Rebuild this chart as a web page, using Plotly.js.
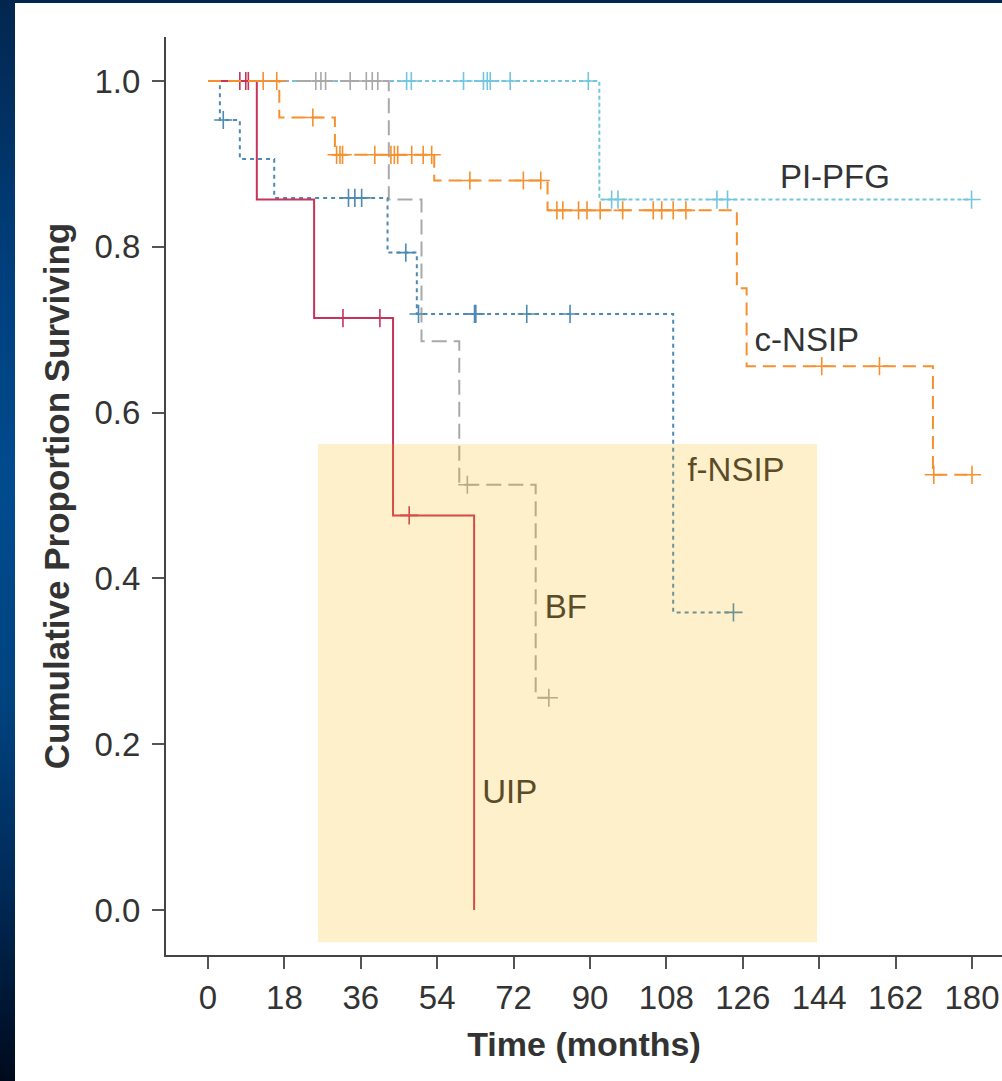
<!DOCTYPE html>
<html>
<head>
<meta charset="utf-8">
<script src="https://cdn.plot.ly/plotly-3.0.1.min.js"></script>
<style>
  html, body { margin: 0; padding: 0; }
  body {
    width: 1002px; height: 1081px; overflow: hidden; position: relative;
    background: linear-gradient(to bottom, #03264f 0%, #003f7c 25%, #004b8f 45%, #00437f 65%, #002a58 82%, #000a1c 100%);
  }
  #chart { position: absolute; left: 15px; top: 3px; width: 987px; height: 1078px; background: #fff; }
</style>
</head>
<body>
<div id="chart"></div>
<script>
// ---- Step curves (time in months, cumulative proportion surviving) ----
const uipTime   = [0, 11.5, 25.0, 43.6, 62.7];
const uipSurv   = [1.0, 0.857, 0.714, 0.476, 0.0];
const uipCens   = [7.5, 8.9, 9.5, 31.8, 40.5, 47.4];

const bfTime    = [0, 42.6, 50.3, 59.2, 77.2, 80.3];
const bfSurv    = [1.0, 0.857, 0.686, 0.513, 0.256, 0.256];
const bfCens    = [25.4, 26.6, 27.7, 33.5, 37.3, 38.7, 40.0, 61.1, 80.3];

const fnsipTime = [0, 2.8, 7.5, 15.6, 42.3, 49.2, 109.6, 123.8];
const fnsipSurv = [1.0, 0.953, 0.906, 0.859, 0.793, 0.719, 0.359, 0.359];
const fnsipCens = [3.6, 33.1, 34.6, 36.2, 46.6, 49.6, 62.8, 63.1, 75.1, 85.3, 123.8];

const cnsipTime = [0, 16.8, 29.9, 53.3, 80.0, 124.6, 126.9, 170.8, 180.0];
const cnsipSurv = [1.0, 0.956, 0.911, 0.880, 0.844, 0.750, 0.656, 0.525, 0.525];
const cnsipCens = [13.0, 16.2, 24.7, 30.3, 31.1, 31.7, 39.3, 43.1, 43.9, 44.7, 48.0, 50.7, 52.7,
                   61.7, 74.3, 78.4, 82.2, 83.6, 87.3, 89.3, 92.4, 97.7, 104.9, 106.9, 109.6, 112.6,
                   144.6, 158.2, 171.0, 180.0];

const pipfgTime = [0, 92.2, 180.0];
const pipfgSurv = [1.0, 0.857, 0.857];
const pipfgCens = [46.8, 47.9, 60.2, 64.9, 65.8, 66.5, 71.2, 89.6, 95.1, 96.6, 119.9, 122.4, 179.9];

// ---- Group labels ----
const groupNames = ["PI-PFG", "c-NSIP", "f-NSIP", "BF", "UIP"];
const labelX     = [147.7, 141.1, 124.4, 84.3, 71.1];
const labelY     = [0.881, 0.684, 0.527, 0.362, 0.139];

// ---- Axis ticks ----
const xTicks = [0, 18, 36, 54, 72, 90, 108, 126, 144, 162, 180];
const yTicks = [0.0, 0.2, 0.4, 0.6, 0.8, 1.0];
const yTickText = ["0.0", "0.2", "0.4", "0.6", "0.8", "1.0"];

// ---- Highlight box (data coords) ----
const boxX = [25.9, 143.5];
const boxY = [-0.039, 0.562];

function stepAt(times, surv, t) {
  let v = surv[0];
  for (let i = 0; i < times.length; i++) { if (t >= times[i]) v = surv[i]; }
  return v;
}

const groups = [
  {name: "PI-PFG", t: pipfgTime, s: pipfgSurv, c: pipfgCens, color: "#72c6df", dash: "4px,3px", w: 2},
  {name: "BF",     t: bfTime,    s: bfSurv,    c: bfCens,    color: "#a9a9a9", dash: "15px,7px", w: 2},
  {name: "f-NSIP", t: fnsipTime, s: fnsipSurv, c: fnsipCens, color: "#4d89b3", dash: "4px,4px", w: 2},
  {name: "UIP",    t: uipTime,   s: uipSurv,   c: uipCens,   color: "#c8335a", dash: "solid", w: 2},
  {name: "c-NSIP", t: cnsipTime, s: cnsipSurv, c: cnsipCens, color: "#f6902e", dash: "13px,7px", w: 2}
];

const traces = [];
groups.forEach(g => {
  traces.push({
    type: "scatter", mode: "lines", x: g.t, y: g.s,
    line: {shape: "hv", color: g.color, width: g.w, dash: g.dash},
    hoverinfo: "skip", showlegend: false
  });
  traces.push({
    type: "scatter", mode: "markers", x: g.c, y: g.c.map(t => stepAt(g.t, g.s, t)),
    marker: {symbol: "cross-thin", size: 13, line: {color: g.color, width: 1.6}},
    hoverinfo: "skip", showlegend: false
  });
});

traces.push({
  type: "scatter", mode: "text", x: labelX, y: labelY, text: groupNames,
  textposition: "middle center",
  textfont: {family: "Liberation Sans, Arial, Helvetica, sans-serif", size: 33, color: "#333333"},
  hoverinfo: "skip", showlegend: false
});

const font = "Liberation Sans, Arial, Helvetica, sans-serif";
const layout = {
  width: 987, height: 1078,
  margin: {l: 151, r: 0, t: 34, b: 126, pad: 0},
  paper_bgcolor: "#ffffff", plot_bgcolor: "#ffffff",
  showlegend: false,
  font: {family: font, color: "#333333", size: 33},
  xaxis: {
    range: [-9.895, 187.07], tickvals: xTicks, ticktext: xTicks.map(String),
    showgrid: false, zeroline: false, showline: true, linecolor: "#444444", linewidth: 2,
    ticks: "outside", ticklen: 12, tickwidth: 2, tickcolor: "#555555",
    tickfont: {family: font, size: 33, color: "#333333"},
    title: {text: "<b>Time (months)</b>", font: {family: font, size: 34, color: "#333333"}, standoff: 18},
    fixedrange: true
  },
  yaxis: {
    range: [-0.0543, 1.0531], tickvals: yTicks, ticktext: yTickText,
    showgrid: false, zeroline: false, showline: true, linecolor: "#444444", linewidth: 2,
    ticks: "outside", ticklen: 12, tickwidth: 2, tickcolor: "#555555",
    ticklabelstandoff: 5,
    tickfont: {family: font, size: 33, color: "#333333"},
    title: {text: "<b>Cumulative Proportion Surviving</b>", font: {family: font, size: 35, color: "#333333"}, standoff: 14},
    fixedrange: true
  },
  shapes: [{
    type: "rect", xref: "x", yref: "y", x0: boxX[0], x1: boxX[1], y0: boxY[0], y1: boxY[1],
    fillcolor: "rgb(255,180,0)", opacity: 0.2, line: {width: 0}, layer: "above"
  }]
};

Plotly.newPlot("chart", traces, layout, {displayModeBar: false, staticPlot: true});
</script>
</body>
</html>
